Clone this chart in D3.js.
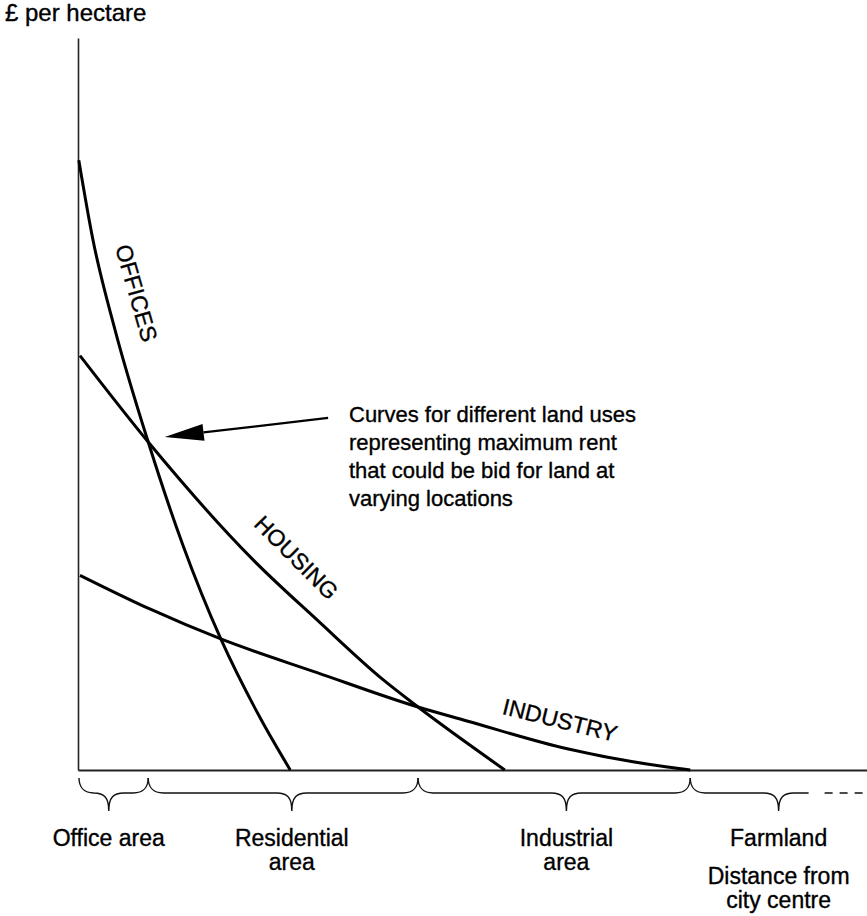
<!DOCTYPE html>
<html>
<head>
<meta charset="utf-8">
<script src="https://cdn.jsdelivr.net/npm/d3@7"></script>
<style>
  html, body { margin: 0; padding: 0; background: #fff; }
  svg { display: block; font-family: "Liberation Sans", Arial, Helvetica, sans-serif; }
</style>
</head>
<body>
<svg id="chart" width="867" height="916"></svg>
<script>
// ---- data (distance units 0-100, rent units 0-100) ----
const officesDist  = [0.1, 1.9, 4.7, 8.9, 13.3, 18.1, 23.1, 26.9];
const officesRent  = [83.3, 72.4, 60.1, 44.8, 30.7, 17.9, 7.1, 0];
const housingDist  = [0.25, 8.9, 22.2, 30.3, 38.7, 43.1, 54.1];
const housingRent  = [56.6, 44.8, 28.7, 20.5, 12.3, 8.6, 0];
const industryDist = [0.25, 9.1, 18.1, 30.3, 43.1, 49.3, 62.0, 74.7, 77.6];
const industryRent = [26.6, 22.0, 17.9, 13.3, 8.6, 6.7, 2.9, 0.4, 0];

const curveNames = ["OFFICES", "HOUSING", "INDUSTRY"];
const zoneNames  = [["Office area"], ["Residential", "area"], ["Industrial", "area"], ["Farmland"]];
const zoneStart  = [0, 8.9, 43.1, 77.6];
const zoneEnd    = [8.9, 43.1, 77.6, null];   // null = open-ended
const zoneTip    = [3.9, 27.1, 61.9, 88.8];

const yAxisTitle = "£ per hectare";
const xAxisTitle = ["Distance from", "city centre"];
const noteLines  = ["Curves for different land uses", "representing maximum rent",
                    "that could be bid for land at", "varying locations"];
const arrowFrom  = [31.7, 48.1];
const arrowTo    = [11.0, 45.5];

// ---- layout ----
const svg = d3.select("#chart");
const x = d3.scaleLinear().domain([0, 100]).range([78, 867]);
const y = d3.scaleLinear().domain([0, 100]).range([770, 38]);
const FS = 23;
const TXT_STROKE = 0.35;

function styleText(sel, size) {
  return sel.attr("font-size", size).attr("fill", "#000")
    .attr("stroke", "#000").attr("stroke-width", TXT_STROKE);
}

// axes (no ticks)
svg.append("g").attr("transform", `translate(${x(0)},0)`)
  .call(d3.axisLeft(y).tickValues([]).tickSizeOuter(0))
  .select(".domain").attr("stroke", "#222").attr("stroke-width", 1.6);
svg.append("g").attr("transform", `translate(0,${y(0)})`)
  .call(d3.axisBottom(x).tickValues([]).tickSizeOuter(0))
  .select(".domain").attr("stroke", "#222").attr("stroke-width", 1.8);

// curves
const series = [
  officesDist.map((d, i) => [d, officesRent[i]]),
  housingDist.map((d, i) => [d, housingRent[i]]),
  industryDist.map((d, i) => [d, industryRent[i]])
];
const line = d3.line().x(d => x(d[0])).y(d => y(d[1])).curve(d3.curveMonotoneX);
svg.selectAll("path.curve").data(series).join("path")
  .attr("class", "curve")
  .attr("d", line)
  .attr("fill", "none").attr("stroke", "#000").attr("stroke-width", 3)
  .attr("stroke-linecap", "butt");

// curve labels
const labelPos = [
  { cx: 136.5, cy: 293, rot: 74 },
  { cx: 296.5, cy: 557.5, rot: 45 },
  { cx: 560, cy: 720, rot: 14 }
];
curveNames.forEach((n, i) => {
  const p = labelPos[i];
  styleText(svg.append("text"), FS)
    .attr("transform", `translate(${p.cx},${p.cy}) rotate(${p.rot})`)
    .attr("text-anchor", "middle").attr("dy", "0.35em").text(n);
});

// y axis title
styleText(svg.append("text"), 24).attr("x", 5).attr("y", 21).text(yAxisTitle);

// annotation
const note = styleText(svg.append("text"), 22);
noteLines.forEach((t, i) => {
  note.append("tspan").attr("x", 349).attr("y", 422 + i * 28).text(t);
});
// arrow
const ax0 = x(arrowFrom[0]), ay0 = y(arrowFrom[1]);
const ax1 = x(arrowTo[0]), ay1 = y(arrowTo[1]);
const ang = Math.atan2(ay1 - ay0, ax1 - ax0);
const headLen = 39, headHalf = 8.5;
const bx = ax1 - headLen * Math.cos(ang), by = ay1 - headLen * Math.sin(ang);
svg.append("line").attr("x1", ax0).attr("y1", ay0).attr("x2", bx).attr("y2", by)
  .attr("stroke", "#000").attr("stroke-width", 2.2);
svg.append("path")
  .attr("d", `M${ax1},${ay1} L${bx - headHalf * Math.sin(ang)},${by + headHalf * Math.cos(ang)} L${bx + headHalf * Math.sin(ang)},${by - headHalf * Math.cos(ang)} Z`)
  .attr("fill", "#000");

// braces
const yTop = 778, yMid = 793, yTip = 811, r = 15;
function bracePath(x0, xt, x1) {
  let p = `M${x0},${yTop} C${x0},${yMid - 6} ${x0 + 5},${yMid} ${x0 + r},${yMid}`;
  p += ` L${xt - r},${yMid} C${xt - 5},${yMid} ${xt},${yMid + 4} ${xt},${yTip}`;
  p += ` C${xt},${yMid + 4} ${xt + 5},${yMid} ${xt + r},${yMid}`;
  if (x1 !== null) {
    p += ` L${x1 - r},${yMid} C${x1 - 5},${yMid} ${x1},${yMid - 6} ${x1},${yTop}`;
  } else {
    p += ` L${xt + 30},${yMid}`;
  }
  return p;
}
zoneNames.forEach((names, i) => {
  const x0 = x(zoneStart[i]) + (i === 0 ? 1 : 0);
  const x1 = zoneEnd[i] === null ? null : x(zoneEnd[i]);
  const xt = x(zoneTip[i]);
  svg.append("path").attr("d", bracePath(x0, xt, x1))
    .attr("fill", "none").attr("stroke", "#111").attr("stroke-width", 1.4);
  names.forEach((t, j) => {
    styleText(svg.append("text"), FS).attr("x", xt).attr("y", 846 + j * 24)
      .attr("text-anchor", "middle").text(t);
  });
  if (x1 === null) {
    svg.append("line").attr("x1", xt + 46).attr("x2", x(100)).attr("y1", yMid).attr("y2", yMid)
      .attr("stroke", "#111").attr("stroke-width", 1.4).attr("stroke-dasharray", "8 7");
  }
});

// x axis title
xAxisTitle.forEach((t, j) => {
  styleText(svg.append("text"), FS).attr("x", x(zoneTip[3])).attr("y", 884 + j * 24)
    .attr("text-anchor", "middle").text(t);
});
</script>
</body>
</html>
